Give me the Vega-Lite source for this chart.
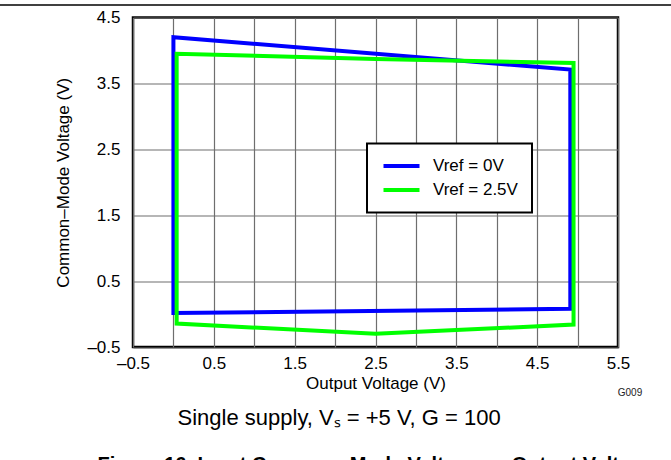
{
  "$schema": "https://vega.github.io/schema/vega-lite/v6.json",
  "autosize": "none",
  "width": 485,
  "height": 329.5,
  "padding": {"left": 133, "top": 17.5, "right": 53, "bottom": 113.5},
  "background": "white",
  "config": {
    "view": {"stroke": "black", "strokeWidth": 2.5},
    "axis": {
      "labelFont": "Liberation Sans",
      "titleFont": "Liberation Sans",
      "labelFontSize": 17,
      "titleFontSize": 17,
      "titleFontWeight": "normal",
      "labelColor": "black",
      "titleColor": "black",
      "gridColor": "#6e6e6e",
      "gridWidth": 1.2,
      "gridOpacity": 1,
      "ticks": false,
      "domain": false,
      "labelFlush": false,
      "labelOverlap": false
    }
  },
  "layer": [
    {
      "data": {
        "values": [
          {"x": 0.0, "y": 2.0, "series": "Vref = 0V", "i": 0},
          {"x": 0.0, "y": 4.2, "series": "Vref = 0V", "i": 1},
          {"x": 4.91, "y": 3.71, "series": "Vref = 0V", "i": 2},
          {"x": 4.91, "y": 0.08, "series": "Vref = 0V", "i": 3},
          {"x": 0.0, "y": 0.015, "series": "Vref = 0V", "i": 4},
          {"x": 0.0, "y": 2.0, "series": "Vref = 0V", "i": 5},
          {"x": 0.04, "y": 2.0, "series": "Vref = 2.5V", "i": 0},
          {"x": 0.04, "y": 3.95, "series": "Vref = 2.5V", "i": 1},
          {"x": 2.5, "y": 3.87, "series": "Vref = 2.5V", "i": 2},
          {"x": 4.95, "y": 3.81, "series": "Vref = 2.5V", "i": 3},
          {"x": 4.95, "y": -0.16, "series": "Vref = 2.5V", "i": 4},
          {"x": 2.5, "y": -0.30, "series": "Vref = 2.5V", "i": 5},
          {"x": 0.04, "y": -0.145, "series": "Vref = 2.5V", "i": 6},
          {"x": 0.04, "y": 2.0, "series": "Vref = 2.5V", "i": 7}
        ]
      },
      "mark": {"type": "line", "strokeWidth": 4, "strokeJoin": "miter", "strokeCap": "butt"},
      "encoding": {
        "x": {
          "field": "x", "type": "quantitative",
          "scale": {"domain": [-0.5, 5.5], "nice": false, "zero": false},
          "axis": {
            "values": [-0.5, 0, 0.5, 1, 1.5, 2, 2.5, 3, 3.5, 4, 4.5, 5, 5.5],
            "labelExpr": "datum.value == -0.5 ? '–0.5' : (abs(round(datum.value * 2)) % 2 == 1 ? format(datum.value, '.1f') : '')",
            "labelPadding": 8,
            "title": "Output Voltage (V)",
            "titlePadding": 4
          }
        },
        "y": {
          "field": "y", "type": "quantitative",
          "scale": {"domain": [-0.5, 4.5], "nice": false, "zero": false},
          "axis": {
            "values": [-0.5, 0, 0.5, 1, 1.5, 2, 2.5, 3, 3.5, 4, 4.5],
            "labelExpr": "datum.value == -0.5 ? '–0.5' : (abs(round(datum.value * 2)) % 2 == 1 ? format(datum.value, '.1f') : '')",
            "labelPadding": 13,
            "title": "Common–Mode Voltage (V)",
            "titlePadding": 14
          }
        },
        "order": {"field": "i", "type": "quantitative"},
        "color": {
          "field": "series", "type": "nominal",
          "scale": {"domain": ["Vref = 0V", "Vref = 2.5V"], "range": ["#0000ff", "#00ff00"]},
          "legend": {
            "orient": "none",
            "legendX": 234,
            "legendY": 126,
            "title": null,
            "symbolType": "M-1,0H5",
            "symbolSize": 144,
            "symbolStrokeWidth": 4,
            "labelFont": "Liberation Sans",
            "labelFontSize": 17,
            "labelColor": "black",
            "labelOffset": 35,
            "padding": 14,
            "rowPadding": 6,
            "strokeColor": "black",
            "fillColor": "white",
            "encode": {"legend": {"update": {"strokeWidth": {"value": 2}}}}
          }
        }
      }
    },
    {
      "data": {"values": [{}]},
      "mark": {"type": "rule", "color": "black", "strokeWidth": 1.5},
      "encoding": {
        "x": {"datum": -2.3},
        "x2": {"datum": 6.4},
        "y": {"datum": 4.69}
      }
    },
    {
      "data": {"values": [{}]},
      "mark": {"type": "text", "align": "right", "baseline": "middle", "font": "Liberation Sans", "fontSize": 10, "color": "#222222"},
      "encoding": {
        "x": {"datum": 5.8},
        "y": {"datum": -1.2},
        "text": {"value": "G009"}
      }
    },
    {
      "data": {"values": [{}]},
      "mark": {"type": "text", "align": "center", "baseline": "alphabetic", "font": "Liberation Sans", "fontSize": 22, "color": "black"},
      "encoding": {
        "x": {"datum": 2.05},
        "y": {"datum": -1.684},
        "text": {"value": "Single supply, Vₛ = +5 V, G = 100"}
      }
    },
    {
      "data": {"values": [{}]},
      "mark": {"type": "text", "align": "center", "baseline": "alphabetic", "font": "Liberation Sans", "fontSize": 20, "fontWeight": "bold", "color": "black"},
      "encoding": {
        "x": {"datum": 2.5},
        "y": {"datum": -2.38},
        "text": {"value": "Figure 16. Input Common–Mode Voltage vs Output Voltage"}
      }
    }
  ]
}
